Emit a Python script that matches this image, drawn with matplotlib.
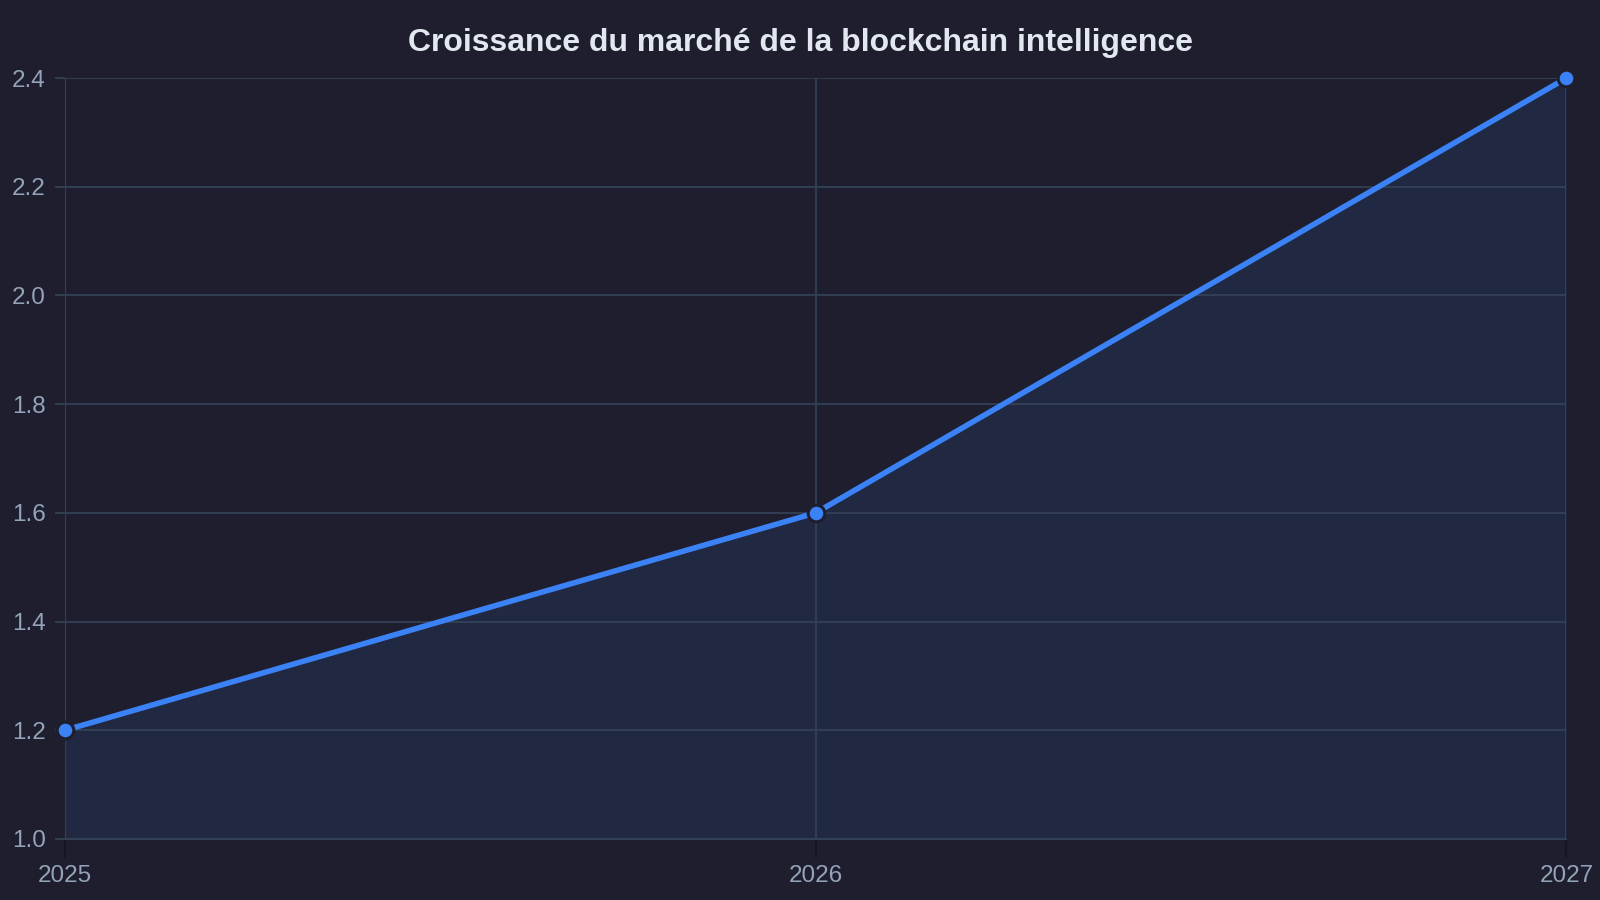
import matplotlib.pyplot as plt

# Données du graphique
annees = [2025, 2026, 2027]
valeurs = [1.2, 1.6, 2.4]
etiquettes_x = ["2025", "2026", "2027"]
ticks_y = [1.0, 1.2, 1.4, 1.6, 1.8, 2.0, 2.2, 2.4]

fond = "#1e1e2e"
grille = "#334155"
bleu = "#3b82f6"
texte = "#94a3b8"

plt.rcParams['font.family'] = ['Liberation Sans', 'DejaVu Sans']

fig = plt.figure(figsize=(16, 9), dpi=100, facecolor=fond)
ax = fig.add_axes([0.0406, 0.0678, 0.9384, 0.8455])
ax.set_facecolor(fond)

ax.fill_between(annees, valeurs, 1.0, color=bleu, alpha=0.1, lw=0, zorder=1)
ax.plot(annees, valeurs, color=bleu, lw=4, zorder=3, solid_capstyle="round",
        marker="o", markersize=12, markerfacecolor=bleu,
        markeredgecolor=fond, markeredgewidth=2.2, clip_on=False)

ax.set_xlim(2025, 2027)
ax.set_ylim(1.0, 2.4)
ax.set_xticks(annees)
ax.set_xticklabels(etiquettes_x)
ax.set_yticks(ticks_y)
ax.set_yticklabels([f"{v:.1f}" for v in ticks_y])

ax.grid(True, color=grille, lw=1.3, zorder=0)
for s in ax.spines.values():
    s.set_visible(False)
ax.spines['left'].set_visible(True)
ax.spines['left'].set_color(grille)
ax.spines['bottom'].set_visible(True)
ax.spines['bottom'].set_color(grille)

ax.tick_params(axis="y", colors=grille, labelcolor=texte, labelsize=17.5,
               length=7, width=1.3, pad=7)
ax.tick_params(axis="x", colors="#16161f", labelcolor=texte, labelsize=17.5,
               length=14, width=1.3, pad=5)

fig.text(0.5, 0.952, "Croissance du marché de la blockchain intelligence",
         ha="center", va="center", color="#e2e8f0", fontsize=23, fontweight="bold")

fig.savefig("out.png", dpi=100, facecolor=fond)
